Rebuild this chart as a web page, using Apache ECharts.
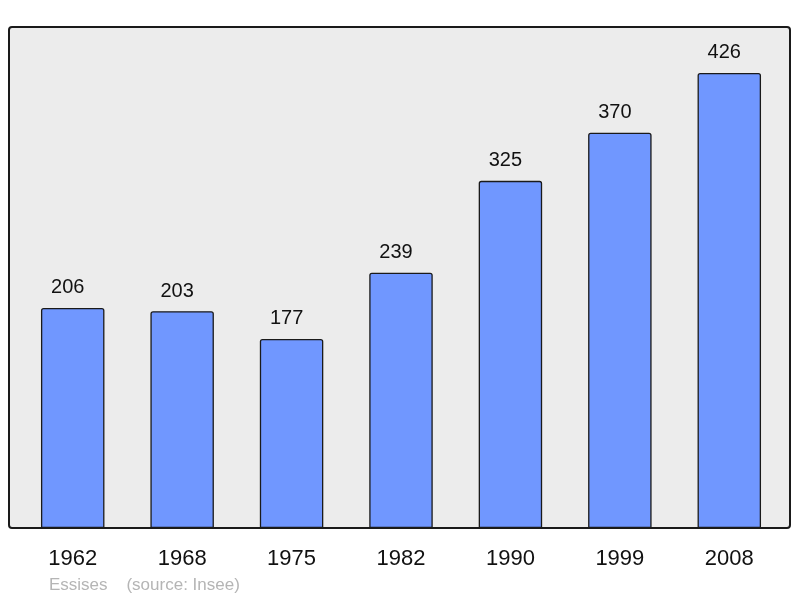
<!DOCTYPE html>
<html><head><meta charset="utf-8">
<script src="https://cdn.jsdelivr.net/npm/echarts@6/dist/echarts.min.js"></script>
<style>html,body{margin:0;padding:0;background:#fff}#c{width:800px;height:598px}</style>
</head><body><div id="c"></div>
<script>
var categories = ['1962','1968','1975','1982','1990','1999','2008'];
var population = [206, 203, 177, 239, 325, 370, 426];
var footerText = 'Essises    (source: Insee)';

var chart = echarts.init(document.getElementById('c'), null, {renderer: 'canvas'});
chart.setOption({
  animation: false,
  backgroundColor: '#ffffff',
  graphic: [
    {type: 'rect', z: -10, shape: {x: 9, y: 27, width: 781, height: 501, r: 3},
     style: {fill: '#ececec', stroke: '#1a1a1a', lineWidth: 2}},
    {type: 'text', left: 49, top: 577, style: {text: footerText, fill: '#b5b5b5', font: '17px "Liberation Sans", Arial, sans-serif'}}
  ],
  grid: {left: 18, right: 16, top: 27, bottom: 70},
  xAxis: {
    type: 'category', data: categories,
    axisLine: {show: false}, axisTick: {show: false},
    axisLabel: {color: '#111', fontSize: 22, margin: 20, fontFamily: 'Liberation Sans'}
  },
  yAxis: {
    type: 'value', min: 0, max: 469,
    show: false, splitLine: {show: false}
  },
  series: [{
    type: 'bar', data: population, barWidth: '58%',
    itemStyle: {color: '#7097ff', borderColor: '#1a1a1a', borderWidth: 1.3, borderRadius: [2,2,0,0]},
    label: {show: true, position: 'top', distance: 10, offset: [-5, 0], color: '#111', fontSize: 20, fontFamily: 'Liberation Sans'}
  }]
});
</script></body></html>
